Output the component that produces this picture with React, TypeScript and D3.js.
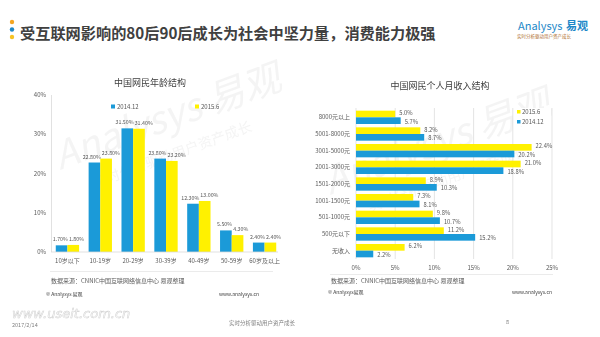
import React from "react";
import * as d3 from "d3";

const ageCats = ["10岁以下", "10-19岁", "20-29岁", "30-39岁", "40-49岁", "50-59岁", "60岁及以上"];
const age2014 = [1.7, 22.8, 31.5, 23.8, 12.3, 5.5, 2.4];
const age2015 = [1.8, 23.8, 31.4, 23.2, 13.0, 4.3, 2.4];
const ageTicks = [0, 10, 20, 30, 40];

const incCats = ["8000元以上", "5001-8000元", "3001-5000元", "2001-3000元", "1501-2000元", "1001-1500元", "501-1000元", "500元以下", "无收入"];
const inc2015 = [5.0, 8.2, 22.4, 21.0, 8.9, 7.3, 9.8, 11.2, 6.2];
const inc2014 = [5.7, 8.7, 20.2, 18.8, 10.3, 8.1, 10.7, 15.2, 2.2];
const incTicks = [0, 5, 10, 15, 20, 25];

const BLUE = "#1b9ad8";
const YELLOW = "#fff100";
const TXT = "#595959";
const FONT = "'Noto Sans CJK SC', 'Microsoft YaHei', sans-serif";

export default function App() {
  const xL = d3.scaleBand().domain(ageCats).range([51, 281]).paddingInner(0.29).paddingOuter(0.145);
  const yL = d3.scaleLinear().domain([0, 40]).range([252, 95]);
  const subL = d3.scaleBand().domain(["a", "b"]).range([0, xL.bandwidth()]);

  const xR = d3.scaleLinear().domain([0, 25]).range([356, 552]);
  const yR = d3.scaleBand().domain(incCats).range([109, 259]).paddingInner(0.2).paddingOuter(0.1);
  const subR = d3.scaleBand().domain(["a", "b"]).range([0, yR.bandwidth()]);

  return (
    <svg width={600} height={337} style={{ display: "block", position: "absolute", left: 0, top: 0, fontFamily: FONT }}>
      <rect width={600} height={337} fill="#ffffff" />
      {/* header */}
      <circle cx={12} cy={22} r={2.2} fill="#f5a623" />
      <circle cx={12} cy={29.5} r={2.2} fill="#1e88c8" />
      <circle cx={12} cy={37} r={2.2} fill="#f6c324" />
      <text x={20} y={39} fontSize={15.2} fontWeight="bold" fill="#404040">受互联网影响的80后90后成长为社会中坚力量，消费能力极强</text>
      <text x={518} y={30} fontSize={11} fill="#1e88c8">Analysys</text>
      <text x={566} y={30} fontSize={11} fill="#1e88c8" fontWeight="bold">易观</text>
      <text x={517} y={38} fontSize={4.5} fill="#b07030">实时分析驱动用户资产成长</text>

      {/* watermarks */}
      <g opacity={0.35} fill="#e0e0e0">
        <text transform="translate(60,170) rotate(-20)" fontSize={38} fontStyle="italic">Analysys 易观</text>
        <text transform="translate(95,188) rotate(-20)" fontSize={14}>实时分析驱动用户资产成长</text>
        <text transform="translate(330,195) rotate(-20)" fontSize={38} fontStyle="italic">Analysys 易观</text>
        <text transform="translate(370,212) rotate(-20)" fontSize={14}>实时分析驱动用户资产成长</text>
      </g>

      {/* Left chart */}
      <text x={150} y={86} fontSize={9} fill="#404040" textAnchor="middle">中国网民年龄结构</text>
      {ageTicks.map((t) => (
        <text key={t} x={46} y={yL(t) + 2} fontSize={6} fill={TXT} textAnchor="end">{t}%</text>
      ))}
      <line x1={51.5} x2={51.5} y1={95} y2={252} stroke="#d9d9d9" strokeWidth={0.8} />
      {ageCats.map((c, i) => (
        <g key={c}>
          <rect x={xL(c)!} y={yL(age2014[i])} width={subL.bandwidth()} height={252 - yL(age2014[i])} fill={BLUE} />
          <rect x={xL(c)! + subL("b")!} y={yL(age2015[i])} width={subL.bandwidth()} height={252 - yL(age2015[i])} fill={YELLOW} />
          <text x={xL(c)! + subL("b")! + 0.5} y={yL(age2014[i]) - 4} fontSize={5.3} fill={TXT} textAnchor="end">{age2014[i].toFixed(2)}%</text>
          <text x={xL(c)! + subL("b")! + 1.5} y={yL(age2015[i]) - 4} fontSize={5.3} fill={TXT} textAnchor="start">{age2015[i].toFixed(2)}%</text>
          <text x={xL(c)! + xL.bandwidth() / 2} y={263} fontSize={6} fill={TXT} textAnchor="middle">{c}</text>
        </g>
      ))}
      <line x1={51} x2={278} y1={252} y2={252} stroke="#d9d9d9" strokeWidth={0.8} />
      <rect x={111} y={104.5} width={4} height={4} fill={BLUE} />
      <text x={117} y={108.5} fontSize={6} fill={TXT}>2014.12</text>
      <rect x={195} y={104.5} width={4} height={4} fill={YELLOW} />
      <text x={201} y={108.5} fontSize={6} fill={TXT}>2015.6</text>
      <line x1={50} x2={273} y1={271.5} y2={271.5} stroke="#e6e6e6" strokeWidth={0.8} />
      <text x={51} y={283} fontSize={6} fill={TXT}>数据来源：CNNIC中国互联网络信息中心  易观整理</text>
      <text x={46} y={296} fontSize={5} fill="#404040">© Analysys 易观</text>
      <text x={219} y={296} fontSize={5} fill="#404040">www.analysys.cn</text>

      {/* Right chart */}
      <text x={440} y={89} fontSize={9} fill="#404040" textAnchor="middle">中国网民个人月收入结构</text>
      {incTicks.map((t) => (
        <g key={t}>
          <line x1={xR(t)} x2={xR(t)} y1={108} y2={259} stroke="#d9d9d9" strokeWidth={0.7} />
          <text x={xR(t)} y={269.5} fontSize={6} fill={TXT} textAnchor="middle">{t}%</text>
        </g>
      ))}
      <rect x={515} y={108} width={36} height={18} fill="#ffffff" />
      {incCats.map((c, i) => (
        <g key={c}>
          <rect x={xR(0)} y={yR(c)!} width={xR(inc2015[i]) - xR(0)} height={subR.bandwidth()} fill={YELLOW} />
          <rect x={xR(0)} y={yR(c)! + subR("b")!} width={xR(inc2014[i]) - xR(0)} height={subR.bandwidth()} fill={BLUE} />
          <text x={xR(inc2015[i]) + 4} y={yR(c)! + subR.bandwidth() / 2 + 1} fontSize={5.8} fill={TXT}>{inc2015[i].toFixed(1)}%</text>
          <text x={xR(inc2014[i]) + 4} y={yR(c)! + subR("b")! + subR.bandwidth() / 2 + 3} fontSize={5.8} fill={TXT}>{inc2014[i].toFixed(1)}%</text>
          <text x={350} y={yR(c)! + yR.bandwidth() / 2 + 2} fontSize={6} fill={TXT} textAnchor="end">{c}</text>
        </g>
      ))}
      <rect x={517} y={110} width={3.5} height={3.5} fill={YELLOW} />
      <text x={522} y={113.5} fontSize={6} fill={TXT}>2015.6</text>
      <rect x={517} y={120} width={3.5} height={3.5} fill={BLUE} />
      <text x={522} y={123.5} fontSize={6} fill={TXT}>2014.12</text>
      <line x1={330} x2={553} y1={274.5} y2={274.5} stroke="#e6e6e6" strokeWidth={0.8} />
      <text x={331} y={282.5} fontSize={6} fill={TXT}>数据来源：CNNIC中国互联网络信息中心  易观整理</text>
      <text x={328} y={293.5} fontSize={5} fill="#404040">© Analysys易观</text>
      <text x={552} y={293.5} fontSize={5} fill="#404040" textAnchor="end">www.analysys.cn</text>

      {/* footer */}
      <text x={12} y={318} fontSize={13} fill="none" stroke="#cfcfcf" strokeWidth={0.5} fontFamily="'DejaVu Sans', sans-serif" fontStyle="italic">www.useit.com.cn</text>
      <text x={12} y={326.5} fontSize={5.5} fill="#808080">2017/2/14</text>
      <text x={262} y={325} fontSize={5.5} fill="#808080" textAnchor="middle">实时分析驱动用户资产成长</text>
      <text x={506} y={324} fontSize={5.5} fill="#808080">8</text>
    </svg>
  );
}
